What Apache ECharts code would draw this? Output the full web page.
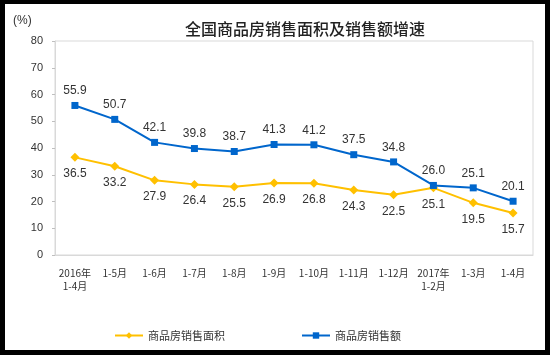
<!DOCTYPE html>
<html><head><meta charset="utf-8">
<script src="https://cdn.jsdelivr.net/npm/echarts@6/dist/echarts.min.js"></script>
<style>html,body{margin:0;padding:0;background:#000;}#c{position:absolute;left:5px;top:4px;width:540px;height:346px;background:#fff;}</style>
</head><body><div id="c"></div>
<script>
var categories = ['2016年\n1-4月','1-5月','1-6月','1-7月','1-8月','1-9月','1-10月','1-11月','1-12月','2017年\n1-2月','1-3月','1-4月'];
var areaGrowth = [36.5,33.2,27.9,26.4,25.5,26.9,26.8,24.3,22.5,25.1,19.5,15.7];
var salesGrowth = [55.9,50.7,42.1,39.8,38.7,41.3,41.2,37.5,34.8,26.0,25.1,20.1];
var yTicks = [0,10,20,30,40,50,60,70,80];
var FF = '"Liberation Sans","Noto Sans CJK SC",sans-serif';
var fmt = function(p){ return Number(p.value).toFixed(1); };
var chart = echarts.init(document.getElementById('c'));
chart.setOption({
  animation:false,
  backgroundColor:'#fff',
  textStyle:{fontFamily:FF},
  title:{text:'全国商品房销售面积及销售额增速',left:295,top:12,textAlign:'center',
    textStyle:{fontSize:16,fontWeight:500,color:'#222',fontFamily:'"Noto Sans CJK SC",sans-serif'}},
  graphic:[{type:'text',left:8,top:11,style:{text:'(%)',fontSize:12,fill:'#333',fontFamily:FF}}],
  legend:{top:321,left:104,itemGap:76,itemWidth:28,itemHeight:8,
    textStyle:{fontSize:11,color:'#333',fontFamily:'"Noto Sans CJK SC",sans-serif'},
    data:['商品房销售面积','商品房销售额']},
  grid:{left:50,right:12,top:37,bottom:95,show:true,borderColor:'#d9d9d9',borderWidth:1},
  xAxis:{type:'category',data:categories,boundaryGap:true,
    axisLine:{lineStyle:{color:'#d9d9d9'}},
    axisTick:{inside:true,length:4,lineStyle:{color:'#bfbfbf'}},
    axisLabel:{fontSize:10,color:'#333',margin:12,lineHeight:13,interval:0,fontFamily:'"Noto Sans CJK SC",sans-serif'}},
  yAxis:{type:'value',min:yTicks[0],max:yTicks[yTicks.length-1],interval:10,
    splitLine:{show:false},axisLine:{show:true,lineStyle:{color:'#d9d9d9'}},
    axisTick:{show:true,length:3,lineStyle:{color:'#bfbfbf'}},
    axisLabel:{fontSize:11,color:'#333',margin:12}},
  series:[
    {name:'商品房销售面积',type:'line',data:areaGrowth,symbol:'diamond',symbolSize:9,
     itemStyle:{color:'#FFC000'},lineStyle:{color:'#FFC000',width:2},
     label:{show:true,position:'bottom',distance:6,fontSize:12,color:'#333',formatter:fmt}},
    {name:'商品房销售额',type:'line',data:salesGrowth,symbol:'rect',symbolSize:7,
     itemStyle:{color:'#0066CC'},lineStyle:{color:'#0066CC',width:2},
     label:{show:true,position:'top',distance:5,fontSize:12,color:'#333',formatter:fmt}}
  ]
});
</script></body></html>
